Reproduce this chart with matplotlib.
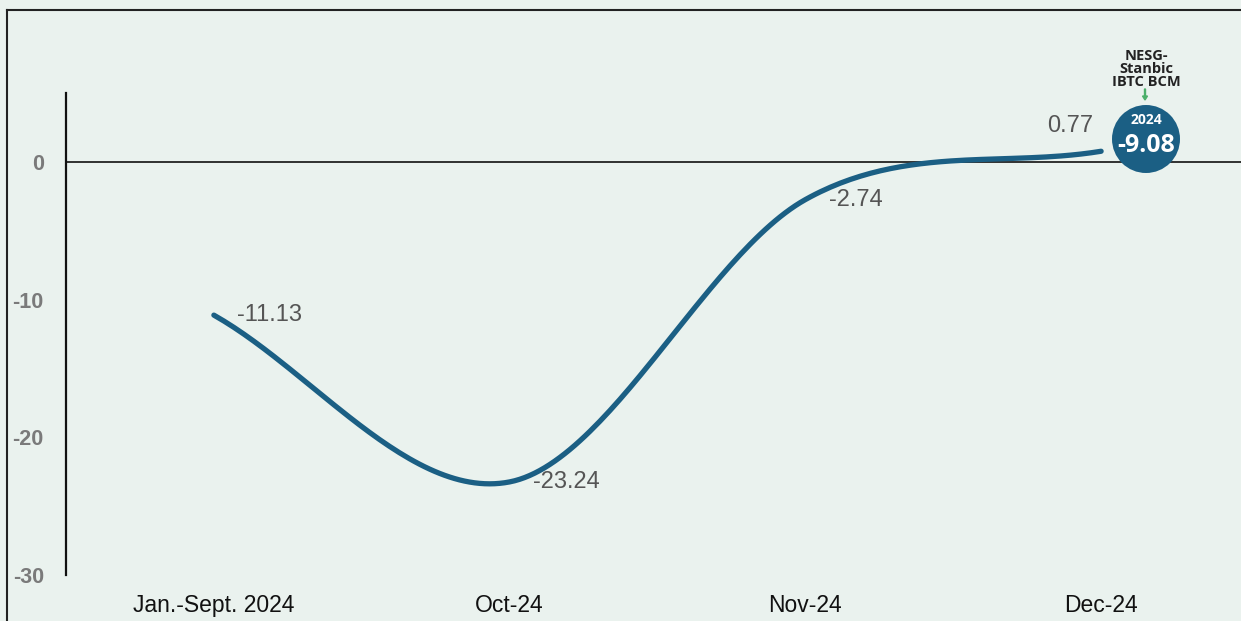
import matplotlib
matplotlib.use("Agg")
import matplotlib.pyplot as plt
import numpy as np
from matplotlib.lines import Line2D
from matplotlib.patches import Circle, FancyArrow

categories = ["Jan.-Sept. 2024", "Oct-24", "Nov-24", "Dec-24"]
values = [-11.13, -23.24, -2.74, 0.77]
badge_year = "2024"
badge_value = "-9.08"
badge_title = "NESG-\nStanbic\nIBTC BCM"

BG = "#EAF2EE"
LINE = "#1B5F84"


def spline(xs, ys, n=60):
    # Catmull-Rom with one-sided tangents at the ends
    xs = np.asarray(xs, float)
    ys = np.asarray(ys, float)
    m = np.zeros_like(ys)
    m[1:-1] = (ys[2:] - ys[:-2]) / 2
    m[0] = ys[1] - ys[0]
    m[-1] = ys[-1] - ys[-2]
    px, py = [], []
    for i in range(len(xs) - 1):
        t = np.linspace(0, 1, n)
        h00 = 2 * t**3 - 3 * t**2 + 1
        h10 = t**3 - 2 * t**2 + t
        h01 = -2 * t**3 + 3 * t**2
        h11 = t**3 - t**2
        px.append(xs[i] + t * (xs[i + 1] - xs[i]))
        py.append(h00 * ys[i] + h10 * m[i] + h01 * ys[i + 1] + h11 * m[i + 1])
    return np.concatenate(px), np.concatenate(py)


def main() -> None:
    fig = plt.figure(figsize=(12.41, 6.21), dpi=100)
    fig.patch.set_facecolor(BG)
    W, H = 1241, 621
    ax = fig.add_axes([66 / W, (H - 575) / H, 1183 / W, (575 - 93) / H])
    ax.set_facecolor(BG)

    x = np.arange(len(categories))
    cx, cy = spline(x, values)
    ax.plot(cx, cy, color=LINE, lw=3.8, solid_capstyle="round", zorder=3)

    ax.axhline(0, color="#222222", lw=1.3, zorder=2)
    ax.set_xlim(-0.5, 3.5)
    ax.set_ylim(-30, 5)

    for s in ["top", "right", "bottom"]:
        ax.spines[s].set_visible(False)
    ax.spines["left"].set_linewidth(1.6)
    ax.spines["left"].set_color("#111111")

    ax.set_yticks([0, -10, -20, -30])
    ax.set_yticklabels(["0", "-10", "-20", "-30"], fontsize=15.5, fontweight="bold",
                       color="#7a7a7a", family="Liberation Sans")
    ax.tick_params(axis="y", length=0, pad=16)
    ax.set_xticks(x)
    ax.set_xticklabels(categories, fontsize=16.5, family="Liberation Sans", color="#111111")
    ax.tick_params(axis="x", length=0, pad=14)

    for i, v in enumerate(values[:-1]):
        ax.annotate(f"{v:.2f}", (x[i], v), xytext=(17, 0), textcoords="offset points",
                    ha="left", va="center", fontsize=17, color="#555555",
                    family="Liberation Sans")
    ax.annotate(f"{values[-1]:.2f}", (x[-1], values[-1]), xytext=(-6, 18),
                textcoords="offset points", ha="right", va="center", fontsize=17,
                color="#555555", family="Liberation Sans")

    # badge
    bx = 1146 / W
    fig.patches.append(Circle((1146, H - 139), 34, transform=None,
                              facecolor=LINE, edgecolor="none", zorder=5))
    fig.text(bx, (H - 120) / H, badge_year, ha="center", va="center", color="white",
             fontsize=10, fontweight="bold", family="Open Sans", zorder=6)
    fig.text(bx, (H - 145) / H, badge_value, ha="center", va="center", color="white",
             fontsize=18, fontweight="bold", family="Open Sans", zorder=6)
    fig.text(bx, (H - 69) / H, badge_title, ha="center", va="center", color="#222222",
             fontsize=10.5, fontweight="bold", family="Open Sans", linespacing=0.9)
    fig.patches.append(FancyArrow(
        1145, H - 89, 0, -11, width=1, head_width=5, head_length=4,
        length_includes_head=True, transform=None, color="#4CAF6A"))

    # outer frame
    fig.add_artist(Line2D([7 / W, 7 / W], [0, 1 - 10 / H], color="#222222", lw=1.5))
    fig.add_artist(Line2D([7 / W, 1], [1 - 10 / H, 1 - 10 / H], color="#222222", lw=1.5))

    fig.savefig("out.png", dpi=100, facecolor=BG)


if __name__ == "__main__":
    main()
